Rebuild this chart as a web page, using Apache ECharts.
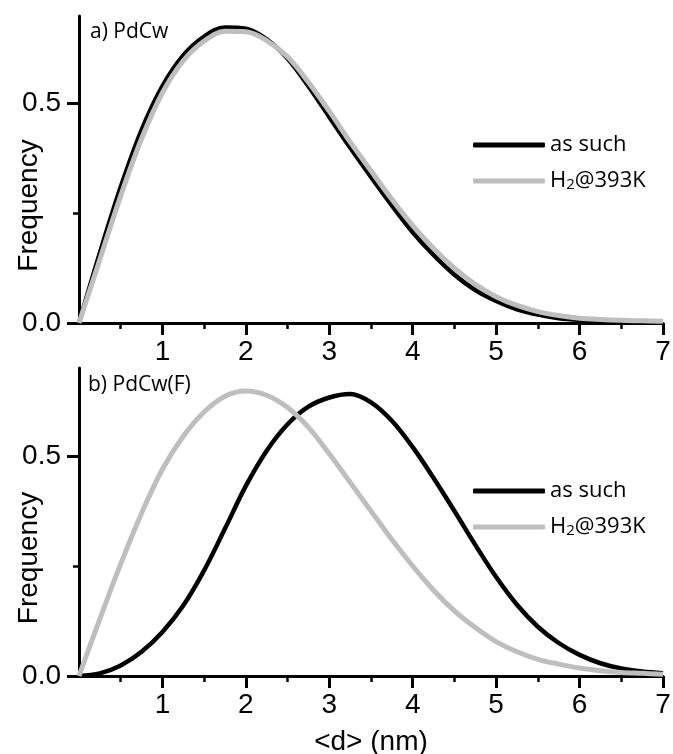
<!DOCTYPE html>
<html>
<head>
<meta charset="utf-8">
<script src="https://cdn.jsdelivr.net/npm/echarts@6/dist/echarts.min.js"></script>
<style>
  html, body { margin: 0; padding: 0; background: #fff; }
  #chart { width: 673px; height: 754px; }
</style>
</head>
<body>
<div id="chart"></div>
<script>
// particle size <d> (nm)
const sizes = [0, 0.25, 0.5, 0.75, 1, 1.25, 1.5, 1.75, 2, 2.25, 2.5, 2.75, 3, 3.25, 3.5,
  3.75, 4, 4.25, 4.5, 4.75, 5, 5.25, 5.5, 5.75, 6, 6.25, 6.5, 6.75, 7];

// a) PdCw
const pdcwAsSuch = [0, 0.16, 0.31, 0.44, 0.54, 0.61, 0.653, 0.674, 0.671, 0.647, 0.603, 0.54, 0.47,
  0.4, 0.333, 0.268, 0.207, 0.155, 0.11, 0.075, 0.05, 0.031, 0.019, 0.011, 0.007, 0.005, 0.004, 0.003, 0.002];
const pdcwH2 = [0, 0.145, 0.29, 0.42, 0.525, 0.598, 0.643, 0.665, 0.664, 0.644, 0.607, 0.549, 0.483,
  0.413, 0.347, 0.282, 0.222, 0.17, 0.125, 0.088, 0.06, 0.04, 0.026, 0.017, 0.011, 0.008, 0.006, 0.005, 0.004];

// b) PdCw(F)
const pdcwfAsSuch = [0, 0.006, 0.024, 0.055, 0.1, 0.16, 0.24, 0.335, 0.432, 0.512, 0.572, 0.612, 0.633,
  0.641, 0.622, 0.58, 0.52, 0.45, 0.375, 0.298, 0.225, 0.162, 0.112, 0.075, 0.048, 0.029, 0.017, 0.01, 0.006];
const pdcwfH2 = [0, 0.13, 0.255, 0.37, 0.47, 0.545, 0.6, 0.636, 0.648, 0.638, 0.61, 0.565, 0.505,
  0.44, 0.375, 0.31, 0.25, 0.195, 0.148, 0.11, 0.078, 0.055, 0.038, 0.027, 0.018, 0.012, 0.008, 0.006, 0.004];

const xTicks = [1, 2, 3, 4, 5, 6, 7];
const yTicks = [0, 0.5];
const yMinorTicks = [0.25];

const pair = (arr) => sizes.map((x, i) => [x, arr[i]]);

const axisFont = 'Liberation Sans, Arial, sans-serif';
const textFont = 'Open Sans, sans-serif';

function xAxisFor(grid, withName) {
  return {
    gridIndex: grid,
    type: 'value',
    min: 0,
    max: 7,
    interval: 1,
    name: withName ? '<d> (nm)' : '',
    nameLocation: 'middle',
    nameGap: 52,
    nameMoveOverlap: false,
    nameTextStyle: { fontFamily: axisFont, fontSize: 28, color: '#000' },
    axisLine: { onZero: false, lineStyle: { color: '#000', width: 3 } },
    axisTick: { customValues: xTicks, length: 12, lineStyle: { color: '#000', width: 3 } },
    minorTick: { show: true, splitNumber: 2, length: 6, lineStyle: { color: '#000', width: 2.5 } },
    axisLabel: { customValues: xTicks, fontFamily: axisFont, fontSize: 28, color: '#000', margin: 15 },
    splitLine: { show: false },
    minorSplitLine: { show: false }
  };
}

function yAxisFor(grid) {
  return {
    gridIndex: grid,
    type: 'value',
    position: 'left',
    min: 0,
    max: 0.7,
    name: 'Frequency',
    nameLocation: 'middle',
    nameGap: 36,
    nameMoveOverlap: false,
    nameTextStyle: { fontFamily: axisFont, fontSize: 28, color: '#000', padding: [0, 72, 0, 0] },
    axisLine: { lineStyle: { color: '#000', width: 3 } },
    axisTick: { customValues: yTicks, length: 12, lineStyle: { color: '#000', width: 3 } },
    axisLabel: {
      customValues: yTicks, fontFamily: axisFont, fontSize: 28, color: '#000', margin: 18,
      formatter: (v) => v.toFixed(1)
    },
    splitLine: { show: false }
  };
}

function yMinorFor(grid) {
  return {
    gridIndex: grid,
    type: 'value',
    position: 'left',
    min: 0,
    max: 0.7,
    axisLine: { show: false },
    axisTick: { customValues: yMinorTicks, length: 6, lineStyle: { color: '#000', width: 2.5 } },
    axisLabel: { show: false },
    splitLine: { show: false }
  };
}

function lineSeries(name, data, grid, color, width) {
  return {
    name: name,
    type: 'line',
    xAxisIndex: grid,
    yAxisIndex: grid,
    data: pair(data),
    smooth: 0.35,
    showSymbol: false,
    symbol: 'none',
    lineStyle: { color: color, width: width },
    itemStyle: { color: color }
  };
}

function legendFor(top) {
  return {
    data: ['as such', 'H2@393K'],
    orient: 'vertical',
    left: 473,
    top: top,
    padding: 0,
    itemGap: 14,
    itemWidth: 72,
    itemHeight: 5,
    icon: 'roundRect',
    selectedMode: false,
    formatter: (name) => name.replace('H2', 'H{sub|2}'),
    textStyle: {
      fontFamily: textFont, fontSize: 22, color: '#000',
      rich: { sub: { fontFamily: textFont, fontSize: 15, color: '#000', verticalAlign: 'bottom' } }
    }
  };
}

const chart = echarts.init(document.getElementById('chart'));
const option = {
  animation: false,
  backgroundColor: '#fff',
  title: [
    { text: 'a) PdCw', left: 90, top: 22, padding: 0,
      textStyle: { fontFamily: textFont, fontSize: 21, fontWeight: 'normal', color: '#000' } },
    { text: 'b) PdCw(F)', left: 88, top: 375, padding: 0,
      textStyle: { fontFamily: textFont, fontSize: 21, fontWeight: 'normal', color: '#000' } }
  ],
  legend: [legendFor(134), legendFor(480)],
  grid: [
    { left: 79, right: 10, top: 16, height: 307, outerBoundsMode: 'none', containLabel: false },
    { left: 79, right: 10, top: 368, height: 308, outerBoundsMode: 'none', containLabel: false }
  ],
  xAxis: [xAxisFor(0, false), xAxisFor(1, true)],
  yAxis: [yAxisFor(0), yAxisFor(1), yMinorFor(0), yMinorFor(1)],
  series: [
    lineSeries('as such', pdcwAsSuch, 0, '#000', 4.5),
    lineSeries('H2@393K', pdcwH2, 0, '#bebebe', 5),
    lineSeries('as such', pdcwfAsSuch, 1, '#000', 4.5),
    lineSeries('H2@393K', pdcwfH2, 1, '#bebebe', 5)
  ]
};
chart.setOption(option);
</script>
</body>
</html>
